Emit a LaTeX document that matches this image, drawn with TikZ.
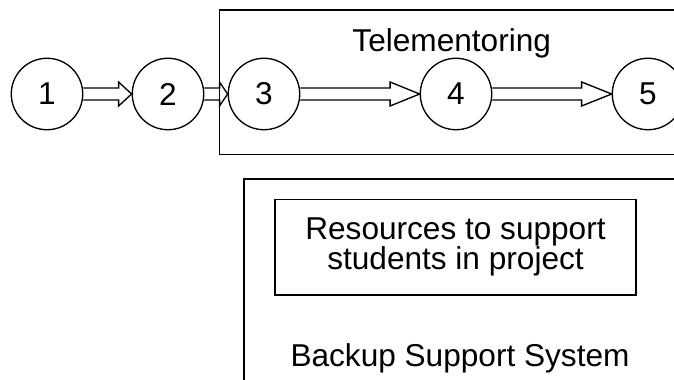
\documentclass[tikz,border=0pt]{standalone}
\usepackage{fontspec}
\setmainfont{Liberation Sans}
\usetikzlibrary{calc}
% hollow block arrow from the east side of #1 to the west side of #2, head length #3
\newcommand\blockarrow[3]{%
  \draw[arrowline] ($(#1.east)+(0,-6)$) -- ($(#2.west)+(-#3,-6)$) -- ($(#2.west)+(-#3,-12)$)
    -- (#2.west) -- ($(#2.west)+(-#3,12)$) -- ($(#2.west)+(-#3,6)$) -- ($(#1.east)+(0,6)$);}
\begin{document}
\begin{tikzpicture}[x=0.75pt,y=-0.75pt,
  every node/.style={font=\fontsize{23.7}{22.5}\selectfont},
  stage/.style={draw,circle,line width=1pt,minimum size=53.6pt,inner sep=0pt},
  frame/.style={draw,rectangle,line width=1pt,inner sep=0pt},
  arrowline/.style={line width=1pt,line join=miter}]
\useasboundingbox (0,0) rectangle (674,379);
\clip (0,0) rectangle (674,379);
% outer frames
\node[frame,minimum width=360.5pt,minimum height=108.2pt] (tele) at (459.65,82.15) {};
\node[frame,minimum width=342pt,minimum height=165.75pt] (backupbox) at (472,289.5) {};
\node[anchor=base] (teletitle) at (451.7,51.7) {Telementoring};
% stages
\node[stage] (c1) at (47,94) {1};
\node[stage] (c2) at (168,94) {2};
\node[stage] (c3) at (264,94) {3};
\node[stage] (c4) at (456,94) {4};
\node[stage] (c5) at (648,94) {5};
\blockarrow{c1}{c2}{13}
\blockarrow{c2}{c3}{8}
\blockarrow{c3}{c4}{29.5}
\blockarrow{c4}{c5}{30}
% backup support
\node[frame,minimum width=270.75pt,minimum height=71.8pt,align=center] (res) at (455.5,247.2)
  {Resources to support\\students in project};
\node[anchor=base] (backup) at (460,366.5) {Backup Support System};
\end{tikzpicture}
\end{document}
